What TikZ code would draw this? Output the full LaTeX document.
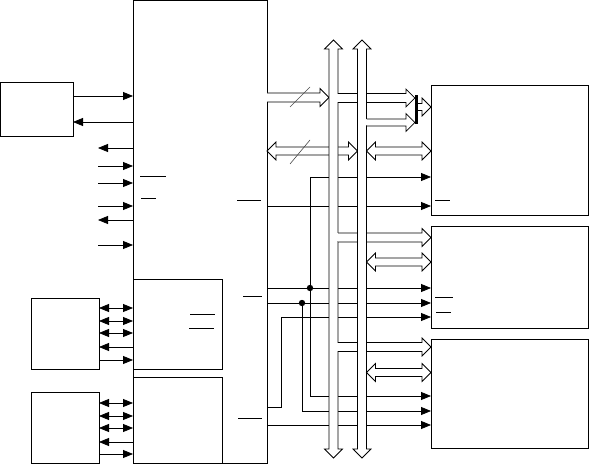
\documentclass[tikz,border=0pt]{standalone}
\usepackage{tikz}
\usetikzlibrary{arrows.meta,calc}

\newcommand{\fatR}[3][4.5]{%
  \draw[fill=white] ($(#2)+(0,-#1)$) -- ($(#3)+(-9,-#1)$) -- ($(#3)+(-9,-9)$) -- (#3)
    -- ($(#3)+(-9,9)$) -- ($(#3)+(-9,#1)$) -- ($(#2)+(0,#1)$);}
\newcommand{\fatLR}[3][4]{%
  \draw[fill=white] (#2) -- ($(#2)+(9,-9)$) -- ($(#2)+(9,-#1)$) -- ($(#3)+(-9,-#1)$)
    -- ($(#3)+(-9,-9)$) -- (#3) -- ($(#3)+(-9,9)$) -- ($(#3)+(-9,#1)$)
    -- ($(#2)+(9,#1)$) -- ($(#2)+(9,9)$) -- cycle;}
\newcommand{\tapR}[3][4.5]{%
  \fill[white] ($(#2)+(-3,{-#1+0.5})$) rectangle ($(#2)+(1,{#1-0.5})$);
  \fatR[#1]{#2}{#3}}
\newcommand{\sysbus}[1]{%
  \draw[fill=white] ({#1-4.5},49) -- ({#1-9},49) -- (#1,40) -- ({#1+9},49) -- ({#1+4.5},49)
    -- ({#1+4.5},449) -- ({#1+9},449) -- (#1,458) -- ({#1-9},449) -- ({#1-4.5},449) -- cycle;}

\begin{document}
\begin{tikzpicture}[x=1pt,y=-1pt,line width=0.8pt,>={Triangle[length=10pt,width=8pt]}]
\tikzstyle{box}=[draw,line width=1pt,inner sep=0pt,outer sep=0pt]
\tikzstyle{negbar}=[line width=0.6pt]
\useasboundingbox (0,0) rectangle (589,465);

\node[box,minimum width=134pt,minimum height=462pt] (cpu) at (200,232) {};
\node[box,minimum width=89pt,minimum height=90pt] (portA) at (177.5,324) {};
\node[box,minimum width=89pt,minimum height=86pt] (portB) at (177.5,420) {};
\node[box,minimum width=72.5pt,minimum height=54pt] (clk) at (36.75,110) {};
\node[box,minimum width=68pt,minimum height=71pt] (ioA) at (65,333.5) {};
\node[box,minimum width=68pt,minimum height=71pt] (ioB) at (65,427.5) {};
\node[box,minimum width=157pt,minimum height=130pt] (devA) at (509.5,151) {};
\node[box,minimum width=157pt,minimum height=101pt] (devB) at (509.5,277.5) {};
\node[box,minimum width=157pt,minimum height=109pt] (devC) at (509.5,393.5) {};
\node[fill,inner sep=0pt,minimum width=2.4pt,minimum height=29pt] (merge) at (416.5,109.5) {};
\coordinate (b1L) at (329,0);
\coordinate (b1R) at (338,0);
\coordinate (b2L) at (357.5,0);
\coordinate (b2R) at (366.5,0);

\draw[->] (clk.east |- 0,96) -- (cpu.west |- 0,96);
\draw[->] (cpu.west |- 0,122) -- (clk.east |- 0,122);
\foreach \y in {148,220} \draw[->] (cpu.west |- 0,\y) -- ++(-35,0);
\foreach \y in {166,183,206,245} \draw[<-] (cpu.west |- 0,\y) -- ++(-35,0);

\foreach \y in {308,321,333} \draw[<->] (ioA.east |- 0,\y) -- (cpu.west |- 0,\y);
\draw[->] (cpu.west |- 0,347) -- (ioA.east |- 0,347);
\draw[->] (ioA.east |- 0,360) -- (cpu.west |- 0,360);
\foreach \y in {403,416,428} \draw[<->] (ioB.east |- 0,\y) -- (cpu.west |- 0,\y);
\draw[->] (cpu.west |- 0,442) -- (ioB.east |- 0,442);
\draw[->] (ioB.east |- 0,454) -- (cpu.west |- 0,454);

\coordinate (jA) at (310,288);
\coordinate (jB) at (302,303);
\coordinate (jC) at (281,317);
\draw[->] (cpu.east |- 0,206) -- (devA.west |- 0,206);
\draw[->] (cpu.east |- jA) -- (devB.west |- jA);
\draw[->] (cpu.east |- jB) -- (devB.west |- jB);
\draw[->] (cpu.east |- 0,407) -| (jC) -- (devB.west |- jC);
\draw[->] (cpu.east |- 0,425) -- (devC.west |- 0,425);
\draw[->] (jA) |- (devA.west |- 0,177);
\draw[->] (jA) |- (devC.west |- 0,396);
\draw[->] (jB) |- (devC.west |- 0,411);
\fill (jA) circle (3.2pt) (jB) circle (3.2pt);

\fatR{cpu.east |- 0,97.5}{b1L |- 0,97.5}
\fatLR{cpu.east |- 0,151}{b2L |- 0,151}
\draw[gray!60!black,line width=0.6pt] (290,107) -- (310,87);
\draw[gray!60!black,line width=0.6pt] (290,164) -- (310,140);

\sysbus{333.5}
\tapR{b1R |- 0,98}{merge.west |- 0,98}
\tapR{b1R |- 0,237.5}{devB.west |- 0,237.5}
\tapR{b1R |- 0,347}{devC.west |- 0,347}
\sysbus{362}
\tapR[3.5]{b2R |- 0,122.5}{merge.west |- 0,122.5}
\fatR[3.5]{merge.east |- 0,107}{devA.west |- 0,107}
\fatLR{b2R |- 0,151}{devA.west |- 0,151}
\fatLR{b2R |- 0,262}{devB.west |- 0,262}
\fatLR{b2R |- 0,372.5}{devC.west |- 0,372.5}

\foreach \a/\b/\y in {140/166/176,141/156/198,237/261/200,190/215/314,189/214/328,
  243/262/296,238/262/418,435/450/200,435/453/297,436/451/312}
  \draw[negbar] (\a,\y) -- (\b,\y);
\end{tikzpicture}
\end{document}
